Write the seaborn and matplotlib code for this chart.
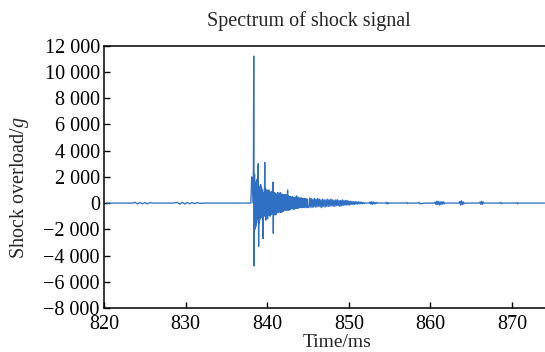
import numpy as np
import pandas as pd
import matplotlib
matplotlib.use("Agg")
import matplotlib.pyplot as plt
import seaborn as sns
from matplotlib.ticker import FuncFormatter

# ---------------- data ----------------
# quiet lead-in before the impact
pre_t = [820.3, 823.5, 823.8, 824.1, 824.4, 824.7, 825.0, 825.3, 825.6, 826.0,
         828.5, 829.0, 829.3, 829.6, 829.9, 830.2, 830.5, 830.8, 831.1, 831.4,
         831.8, 832.2, 834.0, 836.0, 838.0, 838.1, 838.2, 838.3, 838.35, 838.4]
pre_v = [0, 0, 60, -70, 50, -60, 40, -50, 30, 0,
         0, 50, -80, 60, -70, 50, -60, 40, -50, 40,
         -30, 0, 0, 0, 0, 2000, 1900, 0, 11200, -4800]

# dense burst after the impact (sampled every 0.05 ms from 838.45 ms)
burst_t0 = 838.45
burst_dt = 0.05
burst_v = [
    2200, -2000, 1600, -1800, 1400, -1500, 1800, -1200, 1500, 3000,
    -3300, 1300, -1500, 1100, -1200, 1400, -1000, 1200, -1100, 1000,
    1000, -2700, 800, -900, -1000, 3100, -800, 1100, -1300, 900,
    -1100, 1000, -1200, 900, -900, 1000, -800, 900, -1000, 800,
    -900, 800, -700, 900, -800, 1600, -2300, 700, -900, 800,
    -800, 700, -900, 600, -800, 700, -600, 800, -700, 600,
    -700, 700, -600, 800, -700, 600, -700, 700, -600, 600,
    -650, 600, -550, 650, -500, 600, -550, 650, -500, 550,
    -550, 1000, -450, 550, -550, 450, -500, 500, -450, 450,
    -450, 450, -400, 500, -450, 400, -500, 450, -400, 400,
    -400, 450, -400, 550, -350, 400, -400, 450, -350, 350,
    -350, 400, -350, 350, -300, 400, -350, 350, -350, 300,
    -300, 350, -350, 300, -300, 350, -300, 300, -350, 300,
    -300,
]

# decaying tail (sampled every 0.1 ms from 845.1 ms)
tail_t0 = 845.1
tail_dt = 0.1
tail_v = [
    -350, 400, -300, 350, -350, 300, -300, 350, -300, 300,
    -300, 350, -250, 300, -300, 250, -350, 300, -250, 250,
    -300, 250, -250, 300, -250, 250, -250, 300, -200, 250,
    -250, 200, -250, 250, -200, 250, -200, 200, -250, 200,
    -200, 250, -200, 200, -150, 200, -150, 200, -150, 150,
    -150, 150, -100, 120, -120, 100, -100, 120, -80, 100,
    -80, 100, -60, 80, -60, 60, -50, 60, -40, 0,
]

# late small bursts
late_t = [852.5, 852.6, 852.7, 852.8, 852.9, 853.0, 853.1, 853.2, 853.3, 853.4,
          853.5, 854.5, 854.6, 854.7, 854.8, 854.9, 855.0, 856.0, 857.0, 857.1,
          857.2, 857.3, 858.5, 858.6, 858.7, 859.5, 860.5, 860.6, 860.7, 860.8,
          860.9, 861.0, 861.1, 861.2, 861.3, 861.4, 861.5, 861.6, 861.7, 861.8,
          862.5, 863.5, 863.6, 863.7, 863.8, 863.9, 864.0, 864.1, 864.2, 865.0,
          866.0, 866.1, 866.2, 866.3, 866.4, 866.5, 866.6, 867.5, 868.5, 868.6,
          868.7, 868.8, 869.5, 870.5, 870.6, 870.7, 870.8, 871.5, 872.5, 874.0]
late_v = [0, 90, -80, 100, -90, 80, -70, 60, -60, 50,
          0, 0, 60, -70, 50, -40, 0, 0, 0, 50,
          -40, 0, 0, 60, -50, 0, 0, 80, -120, 150,
          -100, 120, -150, 100, -120, 90, -80, 100, -60, 0,
          0, 0, 120, -150, 180, -120, 100, -80, 0, 0,
          0, 90, -110, 130, -90, 80, 0, 0, 0, 60,
          -50, 0, 0, 0, 50, -60, 0, 0, 0, 0]

x_ticks = [820, 830, 840, 850, 860, 870]
y_ticks = [-8000, -6000, -4000, -2000, 0, 2000, 4000, 6000, 8000, 10000, 12000]

# ---------------- assemble ----------------
burst_t = [burst_t0 + i * burst_dt for i in range(len(burst_v))]
tail_t = [tail_t0 + i * tail_dt for i in range(len(tail_v))]
df = pd.DataFrame({
    "t": pre_t + burst_t + tail_t + late_t,
    "v": pre_v + burst_v + tail_v + late_v,
})

# ---------------- style ----------------
sns.set_theme(style="white")
plt.rcParams["font.family"] = ["Liberation Serif", "DejaVu Serif"]
plt.rcParams["mathtext.fontset"] = "custom"
plt.rcParams["mathtext.rm"] = "Liberation Serif"
plt.rcParams["mathtext.it"] = "Liberation Serif:italic"

fig = plt.figure(figsize=(5.45, 3.52), dpi=100)
ax = fig.add_axes([104 / 545, 1 - 308 / 352, 1 - 104 / 545, (308 - 45.7) / 352])

sns.lineplot(data=df, x="t", y="v", ax=ax, sort=False, estimator=None,
             color="#2f70c4", linewidth=0.95)

ax.set_xlim(820, 874.05)
ax.set_ylim(-8000, 12000)
ax.set_xticks(x_ticks)
ax.set_yticks(y_ticks)

def fmt(v, pos):
    s = f"{abs(int(v)):,}".replace(",", " ")
    return ("\u2212" + s) if v < 0 else s

ax.yaxis.set_major_formatter(FuncFormatter(fmt))
ax.tick_params(axis="both", which="major", direction="in", length=4, width=1,
               labelsize=14.5, color="black", labelcolor="black", pad=3,
               left=True, bottom=True, top=False, right=False)
ax.tick_params(axis="x", pad=5)

for side in ["left", "bottom", "top"]:
    ax.spines[side].set_visible(True)
    ax.spines[side].set_color("black")
    ax.spines[side].set_linewidth(1.1)
ax.spines["right"].set_visible(False)

ax.set_title("Spectrum of shock signal", fontsize=14.5, pad=14, x=0.464)
ax.set_xlabel("Time/ms", fontsize=14)
ax.set_ylabel("Shock overload/$g$", fontsize=14.5)
ax.xaxis.set_label_coords(0.528, -0.098)
ax.yaxis.set_label_coords(-0.166, 0.46)

fig.savefig("out.png", dpi=100)
